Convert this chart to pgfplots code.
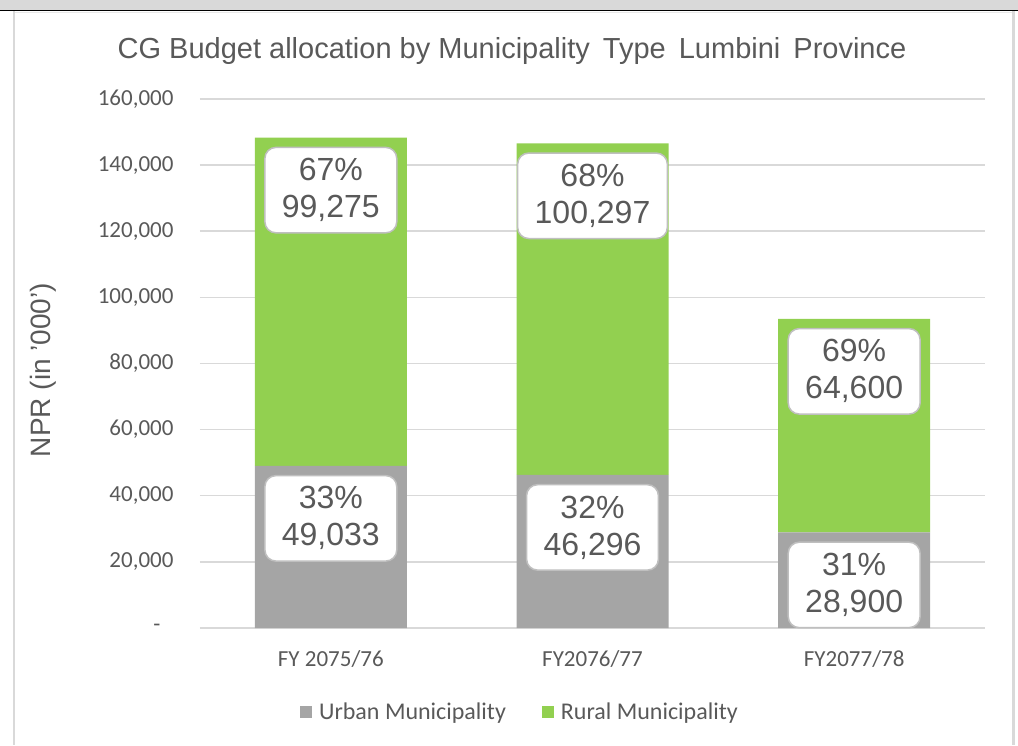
\documentclass[border=0pt]{standalone}
\usepackage{pgfplots}
\pgfplotsset{compat=1.18}
\usepackage{fontspec}
\setmainfont{Liberation Sans}
\newfontfamily\calfont{Carlito}

\definecolor{urban}{HTML}{A5A5A5}
\definecolor{rural}{HTML}{92D050}
\definecolor{gridc}{HTML}{D9D9D9}
\definecolor{txt}{HTML}{595959}
\definecolor{boxc}{HTML}{BFBFBF}

% same geometry for the bars and the label layer
\pgfplotsset{frame geom/.style={
  at={(200pt,117pt)}, anchor=south west,
  scale only axis,
  width=785pt, height=529pt,
  xmin=-0.5, xmax=2.5,
  ymin=0, ymax=160000,
  clip=false,
}}

\begin{document}
\begin{tikzpicture}
% page frame (1pt = 1px of the reference)
\useasboundingbox (0pt,0pt) rectangle (1018pt,745pt);
\fill[gridc] (0pt,735pt) rectangle (1018pt,745pt);
\fill[black] (0pt,733.5pt) rectangle (1018pt,735pt);
\fill[gridc] (13pt,0pt) rectangle (15pt,733.5pt);
\fill[gridc] (1012pt,0pt) rectangle (1015pt,733.5pt);
\fill[gridc!60] (15pt,731.5pt) rectangle (1012pt,732.5pt);

\begin{axis}[
  frame geom,
  ybar stacked,
  bar width=152pt,
  xtick={0,1,2},
  xticklabels={FY 2075/76, FY2076/77, FY2077/78},
  ytick={0,20000,40000,60000,80000,100000,120000,140000,160000},
  yticklabels={-\rule{13pt}{0pt}, {20,000}, {40,000}, {60,000}, {80,000}, {100,000}, {120,000}, {140,000}, {160,000}},
  scaled y ticks=false,
  ymajorgrids,
  grid style={gridc, line width=1.5pt},
  axis line style={draw=none},
  major tick length=0pt,
  tick label style={font=\calfont\fontsize{23}{27}\selectfont, text=txt},
  yticklabel style={xshift=-23pt},
  xticklabel style={yshift=-19pt},
  title={CG Budget allocation by Municipality\hspace{5pt} Type\hspace{5pt} Lumbini\hspace{5pt} Province},
  title style={font=\fontsize{29}{33}\selectfont, text=txt, at={(axis description cs:0.3975,1.0643)}, anchor=base},
  ylabel={NPR (in '000')},
  ylabel style={font=\fontsize{28}{30}\selectfont, text=txt, at={(axis description cs:-0.2000,0.4877)}, anchor=center},
  legend style={at={(axis description cs:0.4076,-0.1588)}, anchor=center,
    draw=none, fill=none, legend columns=2,
    font=\calfont\fontsize{24}{28}\selectfont, text=txt,
    /tikz/every even column/.append style={column sep=34pt}},
  legend image code/.code={\fill[#1] (0pt,-6pt) rectangle (12pt,6pt); \path (17pt,0pt);},
]
\addplot[fill=urban, draw=none] coordinates {(0,49033) (1,46296) (2,28900)};
\addlegendentry{Urban Municipality}
\addplot[fill=rural, draw=none] coordinates {(0,99275) (1,100297) (2,64600)};
\addlegendentry{Rural Municipality}
\end{axis}

% data labels, set just inside the top of each segment
\begin{axis}[
  frame geom,
  hide axis,
  point meta=explicit symbolic,
  nodes near coords,
  every node near coord/.append style={anchor=north, yshift=-9pt,
    draw=boxc, line width=1.5pt, fill=white, rounded corners=11pt,
    text=txt, font=\fontsize{32}{37}\selectfont, align=center,
    inner xsep=17pt, inner ysep=11pt},
]
\addplot[only marks, mark=none] coordinates {
  (0,49033) [33\%\\49,033]
  (1,46296) [32\%\\46,296]
  (2,28900) [31\%\\28,900]
  (0,148308) [67\%\\99,275]
  (1,146593) [68\%\\100,297]
  (2,93500) [69\%\\64,600]
};
\end{axis}
\end{tikzpicture}
\end{document}
